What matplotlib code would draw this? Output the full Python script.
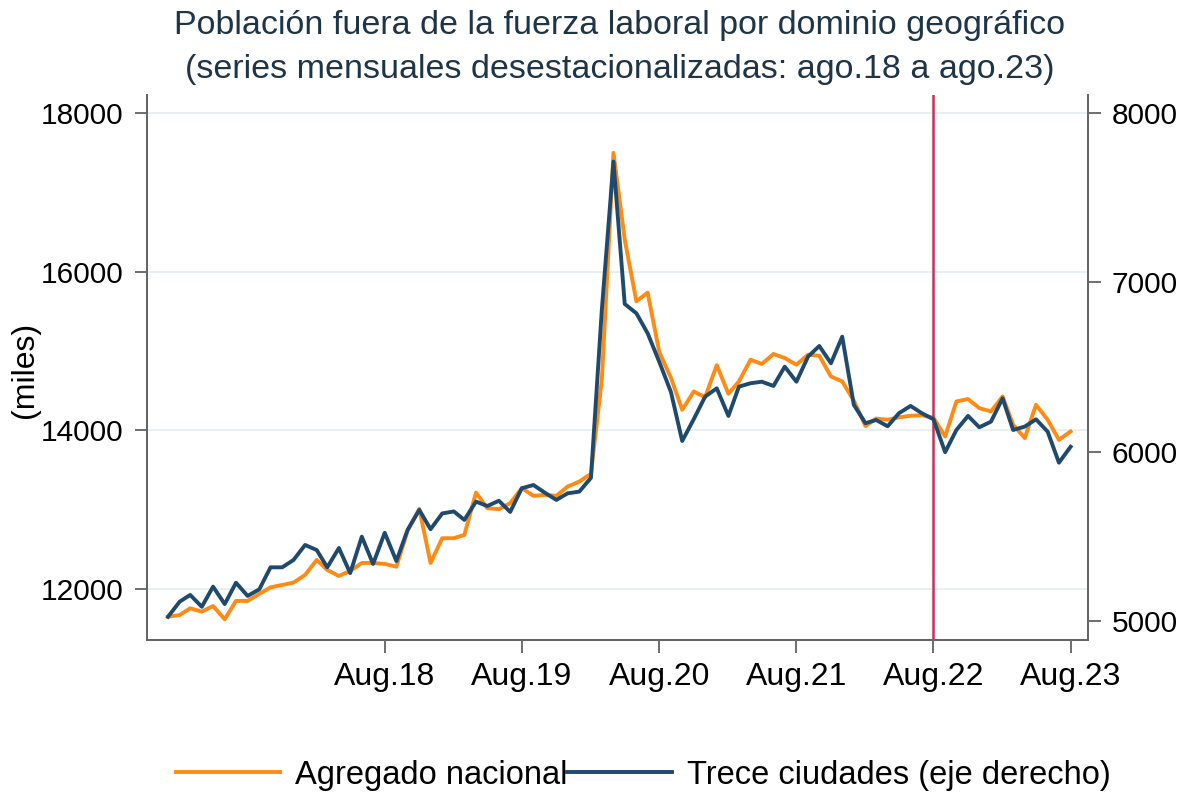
import numpy as np
import pandas as pd
import matplotlib
matplotlib.use("Agg")
from matplotlib import pyplot as plt

# monthly series, jan.17 - ago.23
months = pd.date_range("2017-01-01", periods=80, freq="MS")

agregado = [11650, 11672, 11756, 11714, 11785, 11618, 11849, 11849, 11937, 12021,
            12050, 12080, 12177, 12366, 12240, 12164, 12227, 12328, 12328, 12316,
            12281, 12732, 13010, 12328, 12640, 12640, 12681, 13215, 13018, 13006,
            13082, 13271, 13174, 13186, 13174, 13291, 13354, 13451, 14638, 17499,
            16404, 15626, 15736, 14985, 14663, 14259, 14490, 14417, 14821, 14461,
            14616, 14890, 14836, 14962, 14911, 14827, 14953, 14940, 14679, 14616,
            14373, 14053, 14148, 14133, 14164, 14183, 14190, 14158, 13922, 14364,
            14394, 14280, 14238, 14427, 14070, 13902, 14322, 14133, 13880, 13985]

trece = [5025, 5114, 5154, 5084, 5203, 5100, 5226, 5148, 5187, 5317,
         5317, 5360, 5449, 5419, 5317, 5431, 5283, 5498, 5337, 5521,
         5354, 5539, 5656, 5542, 5635, 5647, 5597, 5705, 5679, 5710,
         5644, 5784, 5803, 5758, 5715, 5754, 5764, 5845, 6837, 7713,
         6872, 6817, 6699, 6530, 6352, 6063, 6193, 6325, 6374, 6211,
         6384, 6404, 6413, 6388, 6502, 6413, 6561, 6624, 6522, 6679,
         6276, 6168, 6187, 6150, 6227, 6270, 6227, 6191, 5997, 6128,
         6211, 6144, 6177, 6315, 6128, 6148, 6191, 6118, 5935, 6029]

tick_dates = pd.to_datetime(["2018-08-01", "2019-08-01", "2020-08-01",
                             "2021-08-01", "2022-08-01", "2023-08-01"])
tick_labels = ["Aug.18", "Aug.19", "Aug.20", "Aug.21", "Aug.22", "Aug.23"]
marker_date = pd.Timestamp("2022-08-01")

left_ticks = [12000, 14000, 16000, 18000]
right_ticks = [5000, 6000, 7000, 8000]

orange = "#ff8b14"
navy = "#1f4a6e"
title_col = "#1e3447"

plt.rcParams["font.family"] = ["Liberation Sans", "DejaVu Sans"]

fig = plt.figure(figsize=(11.91, 7.95), dpi=100)
ax = fig.add_axes([0.1234, 0.195, 0.79, 0.6855])
ax2 = ax.twinx()

l1, = ax.plot(months, agregado, color=orange, lw=2.8, zorder=3,
              label="Agregado nacional")
l2, = ax2.plot(months, trece, color=navy, lw=2.8, zorder=3,
               label="Trece ciudades (eje derecho)")
ax2.axvline(marker_date, color="#c9305a", lw=1.8, zorder=2)

x0 = months[0] - pd.Timedelta(days=56)
x1 = months[-1] + pd.Timedelta(days=46)
ax.set_xlim(x0, x1)
ax.set_ylim(11357, 18227)
ax2.set_ylim(4888, 8106)

ax.set_yticks(left_ticks)
ax2.set_yticks(right_ticks)
ax.set_xticks(tick_dates)
ax.set_xticklabels(tick_labels)
ax.grid(axis="y", color="#e6eff2", lw=1.3)
ax.set_axisbelow(True)

for a in (ax, ax2):
    a.spines["top"].set_visible(False)
    for s in ("left", "right", "bottom"):
        a.spines[s].set_color("#666666")
        a.spines[s].set_linewidth(1.4)
    a.tick_params(labelsize=21.5, length=9, width=1.2, color="#555555", pad=8)
ax.tick_params(axis="x", labelsize=23, pad=7)

fig.text(0.021, 0.535, "(miles)", rotation=90, ha="center", va="center",
         fontsize=23)

fig.text(0.52, 0.968, "Población fuera de la fuerza laboral por dominio geográfico",
         ha="center", va="center", fontsize=24.5, color=title_col)
fig.text(0.52, 0.912, "(series mensuales desestacionalizadas: ago.18 a ago.23)",
         ha="center", va="center", fontsize=24.5, color=title_col)

fig.legend([l1, l2], [l1.get_label(), l2.get_label()], loc="center",
           bbox_to_anchor=(0.54, 0.025), ncol=2, frameon=False, fontsize=23.5,
           handlelength=3.2, handletextpad=0.45, columnspacing=0.0)

fig.savefig("out.png", dpi=100, facecolor="white")
